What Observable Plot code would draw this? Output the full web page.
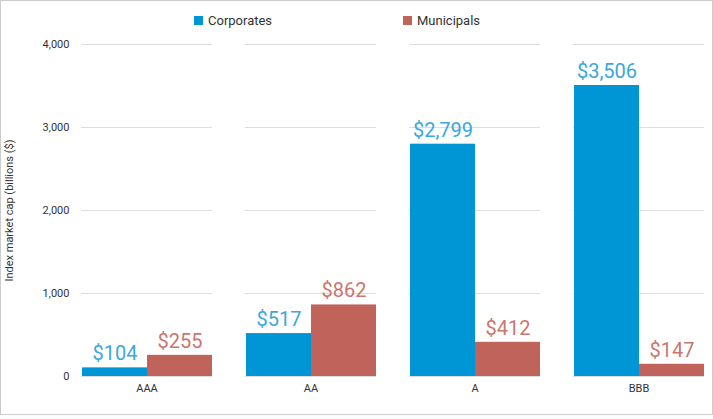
<!DOCTYPE html>
<html><head><meta charset="utf-8">
<script src="https://cdn.jsdelivr.net/npm/d3@7"></script>
<script src="https://cdn.jsdelivr.net/npm/@observablehq/plot@0.6"></script>
<style>
body{margin:0;background:#fff;font-family:Roboto,"Noto Sans",sans-serif;}
#wrap{position:relative;width:711px;height:413px;border:1px solid #ccc;overflow:hidden}
#legend{position:absolute;top:12px;left:0;width:100%;font-size:13px;color:#333}
.it{position:absolute;display:flex;align-items:center;gap:5px}
.sw{width:9px;height:9px;display:inline-block}
</style></head><body>
<div id="wrap"><div id="legend">
<span class="it" style="left:193px"><span class="sw" style="background:#0096d6"></span>Corporates</span>
<span class="it" style="left:402px"><span class="sw" style="background:#c0635b"></span>Municipals</span>
</div><div id="chart"></div></div>
<script>
const ratings = ["AAA","AA","A","BBB"];
const series = ["Corporates","Municipals"];
const corporates = [104,517,2799,3506];
const municipals = [255,862,412,147];
const colors = ["#0096d6","#c0635b"];
const labelColors = ["#3aa8dc","#c9766f"];
const yTicks = [0,1000,2000,3000,4000];
const data = [];
ratings.forEach((r,i)=>{data.push({r,s:series[0],v:corporates[i]});data.push({r,s:series[1],v:municipals[i]});});
const chart = Plot.plot({
  width:711,height:413,marginTop:43,marginBottom:38,marginLeft:79,marginRight:6,
  style:{fontFamily:"Roboto, sans-serif",fontSize:"11px",color:"#333"},
  fx:{domain:ratings,padding:0.2,label:null,axis:"bottom",tickSize:0,tickPadding:8},
  x:{domain:series,padding:0,axis:null},
  y:{domain:[0,4000],ticks:yTicks,tickFormat:d3.format(","),label:"Index market cap (billions ($)",labelAnchor:"center",labelArrow:"none",tickSize:0,tickPadding:12},
  color:{domain:series,range:colors},
  marks:[
    Plot.gridY(yTicks,{stroke:"#ddd",strokeOpacity:1,facetAnchor:null}),
    Plot.barY(data,{fx:"r",x:"s",y:"v",fill:"s"}),
    Plot.text(data,{fx:"r",x:"s",y:"v",text:d=>"$"+d3.format(",")(d.v),dy:-14,fontSize:20,fill:d=>labelColors[series.indexOf(d.s)]})
  ]
});
document.getElementById("chart").appendChild(chart);
</script></body></html>
